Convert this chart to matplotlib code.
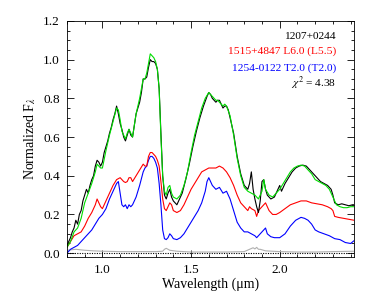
import numpy as np
import matplotlib
matplotlib.use("Agg")
import matplotlib.pyplot as plt
from matplotlib.ticker import MultipleLocator, FormatStrFormatter

plt.rcParams['font.family'] = ['Liberation Serif', 'DejaVu Serif']
plt.rcParams['mathtext.fontset'] = 'stix'

# 1207+0244 (target, black)
wave_obs = [0.80, 0.82, 0.83, 0.84, 0.85, 0.86, 0.87, 0.88, 0.89, 0.90, 0.91, 0.92, 0.93, 0.94,
            0.95, 0.96, 0.97, 0.98, 0.99, 1.00, 1.01, 1.02, 1.03, 1.04, 1.05, 1.06, 1.07, 1.08,
            1.09, 1.10, 1.11, 1.12, 1.13, 1.14, 1.15, 1.16, 1.17, 1.18, 1.19, 1.20, 1.21, 1.22,
            1.23, 1.24, 1.25, 1.26, 1.27, 1.28, 1.29, 1.30, 1.31, 1.32, 1.33, 1.34, 1.35, 1.36,
            1.37, 1.38, 1.39, 1.40, 1.41, 1.42, 1.43, 1.45, 1.47, 1.49, 1.51, 1.53, 1.55, 1.57,
            1.59, 1.60, 1.61, 1.62, 1.63, 1.64, 1.65, 1.66, 1.67, 1.68, 1.69, 1.70, 1.71, 1.72,
            1.74, 1.76, 1.78, 1.80, 1.82, 1.83, 1.84, 1.85, 1.86, 1.87, 1.88, 1.89, 1.90, 1.91,
            1.92, 1.93, 1.95, 1.97, 1.99, 2.00, 2.01, 2.03, 2.05, 2.07, 2.09, 2.11, 2.13, 2.15,
            2.17, 2.19, 2.21, 2.23, 2.25, 2.27, 2.29, 2.30, 2.31, 2.33, 2.35, 2.37, 2.39, 2.41, 2.42]
flux_obs = [0.04, 0.08, 0.11, 0.13, 0.17, 0.15, 0.20, 0.22, 0.27, 0.30, 0.33, 0.31, 0.35, 0.38,
            0.40, 0.45, 0.48, 0.47, 0.45, 0.47, 0.52, 0.55, 0.58, 0.62, 0.65, 0.69, 0.72, 0.76,
            0.72, 0.67, 0.64, 0.60, 0.58, 0.61, 0.64, 0.61, 0.60, 0.66, 0.72, 0.75, 0.78, 0.83,
            0.90, 0.90, 0.91, 0.96, 1.00, 0.99, 0.99, 0.98, 0.95, 0.85, 0.62, 0.40, 0.30, 0.28,
            0.31, 0.33, 0.29, 0.27, 0.26, 0.25, 0.27, 0.31, 0.38, 0.46, 0.55, 0.63, 0.70, 0.76,
            0.81, 0.83, 0.82, 0.80, 0.79, 0.78, 0.79, 0.79, 0.77, 0.75, 0.76, 0.76, 0.74, 0.70,
            0.62, 0.50, 0.41, 0.35, 0.33, 0.36, 0.42, 0.33, 0.28, 0.24, 0.21, 0.27, 0.37, 0.38,
            0.33, 0.30, 0.28, 0.29, 0.33, 0.35, 0.32, 0.36, 0.39, 0.42, 0.44, 0.45, 0.455, 0.45,
            0.43, 0.41, 0.39, 0.37, 0.36, 0.35, 0.33, 0.30, 0.26, 0.25, 0.255, 0.25, 0.245, 0.25, 0.25]

# model fit (green)
wave_fit = [0.80, 0.82, 0.84, 0.86, 0.88, 0.90, 0.92, 0.94, 0.96, 0.97, 0.98, 0.99, 1.00, 1.02,
            1.04, 1.06, 1.08, 1.09, 1.10, 1.11, 1.12, 1.13, 1.14, 1.15, 1.16, 1.17, 1.18, 1.19,
            1.21, 1.23, 1.24, 1.25, 1.26, 1.27, 1.28, 1.29, 1.30, 1.31, 1.32, 1.33, 1.34, 1.35,
            1.36, 1.37, 1.38, 1.39, 1.40, 1.42, 1.44, 1.46, 1.48, 1.50, 1.52, 1.54, 1.56, 1.58,
            1.60, 1.62, 1.64, 1.65, 1.66, 1.68, 1.69, 1.70, 1.72, 1.74, 1.76, 1.78, 1.80, 1.82,
            1.84, 1.86, 1.88, 1.90, 1.91, 1.92, 1.94, 1.96, 1.98, 2.00, 2.02, 2.04, 2.06, 2.08,
            2.10, 2.12, 2.14, 2.16, 2.18, 2.20, 2.22, 2.24, 2.26, 2.28, 2.30, 2.32, 2.34, 2.36,
            2.38, 2.40, 2.42]
flux_fit = [0.03, 0.06, 0.11, 0.13, 0.18, 0.26, 0.31, 0.36, 0.42, 0.46, 0.45, 0.44, 0.44, 0.53,
            0.61, 0.68, 0.75, 0.74, 0.69, 0.63, 0.61, 0.59, 0.62, 0.64, 0.62, 0.60, 0.66, 0.72,
            0.80, 0.90, 0.90, 0.93, 0.98, 1.03, 1.02, 1.01, 0.99, 0.95, 0.85, 0.60, 0.40, 0.32,
            0.30, 0.34, 0.35, 0.31, 0.29, 0.28, 0.30, 0.35, 0.42, 0.52, 0.61, 0.68, 0.75, 0.80,
            0.83, 0.81, 0.79, 0.79, 0.78, 0.76, 0.77, 0.76, 0.71, 0.61, 0.49, 0.40, 0.34, 0.32,
            0.31, 0.30, 0.28, 0.32, 0.38, 0.33, 0.30, 0.29, 0.31, 0.33, 0.36, 0.39, 0.42, 0.44,
            0.45, 0.455, 0.45, 0.43, 0.41, 0.38, 0.37, 0.36, 0.35, 0.33, 0.29, 0.25, 0.24, 0.235,
            0.235, 0.24, 0.24]

# 1515+4847 L6.0 (red)
wave_l6 = [0.80, 0.82, 0.84, 0.86, 0.88, 0.90, 0.92, 0.94, 0.96, 0.97, 0.98, 0.99, 1.00, 1.02,
           1.04, 1.06, 1.08, 1.10, 1.12, 1.13, 1.14, 1.15, 1.16, 1.17, 1.19, 1.21, 1.23, 1.24,
           1.25, 1.26, 1.27, 1.28, 1.29, 1.30, 1.31, 1.32, 1.33, 1.34, 1.35, 1.36, 1.37, 1.38,
           1.39, 1.40, 1.42, 1.44, 1.46, 1.48, 1.50, 1.52, 1.54, 1.56, 1.58, 1.60, 1.62, 1.64,
           1.66, 1.68, 1.70, 1.72, 1.74, 1.76, 1.78, 1.80, 1.82, 1.83, 1.84, 1.86, 1.87, 1.88,
           1.90, 1.92, 1.94, 1.96, 1.98, 2.00, 2.03, 2.06, 2.09, 2.12, 2.15, 2.18, 2.21, 2.24,
           2.27, 2.29, 2.30, 2.31, 2.33, 2.36, 2.39, 2.42]
flux_l6 = [0.03, 0.06, 0.09, 0.10, 0.11, 0.14, 0.18, 0.21, 0.25, 0.28, 0.26, 0.24, 0.23, 0.27,
           0.31, 0.35, 0.38, 0.39, 0.37, 0.365, 0.37, 0.39, 0.39, 0.37, 0.40, 0.43, 0.46, 0.45,
           0.45, 0.50, 0.52, 0.52, 0.51, 0.50, 0.48, 0.45, 0.37, 0.28, 0.23, 0.22, 0.24, 0.26,
           0.25, 0.22, 0.21, 0.22, 0.25, 0.29, 0.33, 0.36, 0.39, 0.42, 0.43, 0.44, 0.44, 0.44,
           0.45, 0.44, 0.42, 0.39, 0.35, 0.30, 0.26, 0.24, 0.22, 0.24, 0.23, 0.22, 0.19, 0.22,
           0.24, 0.26, 0.22, 0.20, 0.20, 0.21, 0.23, 0.25, 0.26, 0.27, 0.27, 0.26, 0.255, 0.25,
           0.24, 0.23, 0.22, 0.19, 0.185, 0.18, 0.175, 0.17]

# 1254-0122 T2.0 (blue)
wave_t2 = [0.80, 0.82, 0.84, 0.86, 0.88, 0.90, 0.92, 0.94, 0.96, 0.98, 1.00, 1.02, 1.04, 1.06,
           1.08, 1.09, 1.10, 1.11, 1.12, 1.13, 1.14, 1.15, 1.16, 1.17, 1.19, 1.21, 1.23, 1.24,
           1.25, 1.26, 1.27, 1.28, 1.29, 1.30, 1.31, 1.32, 1.33, 1.34, 1.35, 1.36, 1.37, 1.38,
           1.39, 1.40, 1.42, 1.44, 1.46, 1.48, 1.50, 1.52, 1.54, 1.56, 1.58, 1.59, 1.60, 1.62,
           1.64, 1.66, 1.68, 1.70, 1.72, 1.74, 1.76, 1.78, 1.80, 1.82, 1.84, 1.86, 1.87, 1.88,
           1.90, 1.92, 1.93, 1.95, 1.97, 2.00, 2.03, 2.06, 2.09, 2.12, 2.14, 2.16, 2.18, 2.20,
           2.22, 2.25, 2.28, 2.31, 2.34, 2.37, 2.40, 2.42]
flux_t2 = [0.00, 0.02, 0.03, 0.04, 0.06, 0.08, 0.10, 0.12, 0.15, 0.18, 0.20, 0.23, 0.28, 0.32,
           0.36, 0.37, 0.31, 0.25, 0.24, 0.25, 0.23, 0.25, 0.24, 0.25, 0.29, 0.35, 0.42, 0.44,
           0.45, 0.48, 0.50, 0.50, 0.49, 0.47, 0.44, 0.36, 0.25, 0.12, 0.075, 0.07, 0.08, 0.10,
           0.09, 0.075, 0.07, 0.08, 0.10, 0.13, 0.16, 0.19, 0.22, 0.26, 0.32, 0.37, 0.39, 0.35,
           0.33, 0.34, 0.31, 0.32, 0.28, 0.22, 0.16, 0.13, 0.11, 0.11, 0.10, 0.09, 0.08, 0.09,
           0.11, 0.13, 0.10, 0.085, 0.08, 0.08, 0.10, 0.14, 0.17, 0.185, 0.18, 0.17, 0.15, 0.12,
           0.11, 0.10, 0.09, 0.075, 0.07, 0.055, 0.05, 0.065]

# noise spectrum (gray)
wave_noise = [0.80, 0.85, 0.90, 0.95, 1.00, 1.10, 1.20, 1.30, 1.34, 1.35, 1.36, 1.38, 1.42,
              1.50, 1.60, 1.70, 1.80, 1.83, 1.85, 1.86, 1.87, 1.88, 1.89, 1.92, 2.00, 2.10,
              2.20, 2.30, 2.42]
flux_noise = [0.015, 0.02, 0.015, 0.012, 0.01, 0.008, 0.008, 0.008, 0.01, 0.02, 0.025, 0.015,
              0.01, 0.006, 0.006, 0.006, 0.008, 0.02, 0.028, 0.022, 0.03, 0.02, 0.02, 0.012,
              0.008, 0.006, 0.006, 0.008, 0.01]

labels = ['1207+0244', '1515+4847 L6.0 (L5.5)', '1254-0122 T2.0 (T2.0)']
chi2 = 4.38

fig = plt.figure(figsize=(3.74, 2.99), dpi=100)
ax = fig.add_axes([0.179, 0.141, 0.768, 0.789])

ax.plot(wave_noise, flux_noise, color='#b0b0b0', lw=0.8)
ax.axhline(0, color='black', lw=0.8, ls=(0, (1, 1.2)))
ax.plot(wave_t2, flux_t2, color='blue', lw=0.8)
ax.plot(wave_l6, flux_l6, color='red', lw=0.8)
ax.plot(wave_obs, flux_obs, color='black', lw=0.8)
ax.plot(wave_fit, flux_fit, color='#00dd00', lw=0.8)

ax.set_xlim(0.8, 2.42)
ax.set_ylim(-0.019, 1.2)
ax.xaxis.set_major_locator(MultipleLocator(0.5))
ax.xaxis.set_minor_locator(MultipleLocator(0.1))
ax.yaxis.set_major_locator(MultipleLocator(0.2))
ax.yaxis.set_minor_locator(MultipleLocator(0.05))
ax.xaxis.set_major_formatter(FormatStrFormatter('%.1f'))
ax.yaxis.set_major_formatter(FormatStrFormatter('%.1f'))
ax.tick_params(which='both', direction='in', top=True, right=True, labelsize=9.5, width=0.6)
ax.tick_params(which='major', length=5, pad=5)
ax.tick_params(which='minor', length=2.5)
for s in ax.spines.values():
    s.set_linewidth(0.6)

ax.set_xlabel('Wavelength (μm)', fontsize=10, labelpad=1)
ax.set_ylabel('Normalized F$_\\lambda$', fontsize=10, labelpad=4)

colors = ['black', 'red', 'blue']
ypos = [0.934, 0.870, 0.801]
for lab, c, yy in zip(labels, colors, ypos):
    ax.text(0.937, yy, lab, color=c, fontsize=8.2, ha='right', va='center', transform=ax.transAxes)
ax.text(0.937, 0.737, '$\\chi^2$ = %.2f' % chi2, color='black', fontsize=8.2, ha='right',
        va='center', transform=ax.transAxes)

fig.savefig('out.png', dpi=100)
